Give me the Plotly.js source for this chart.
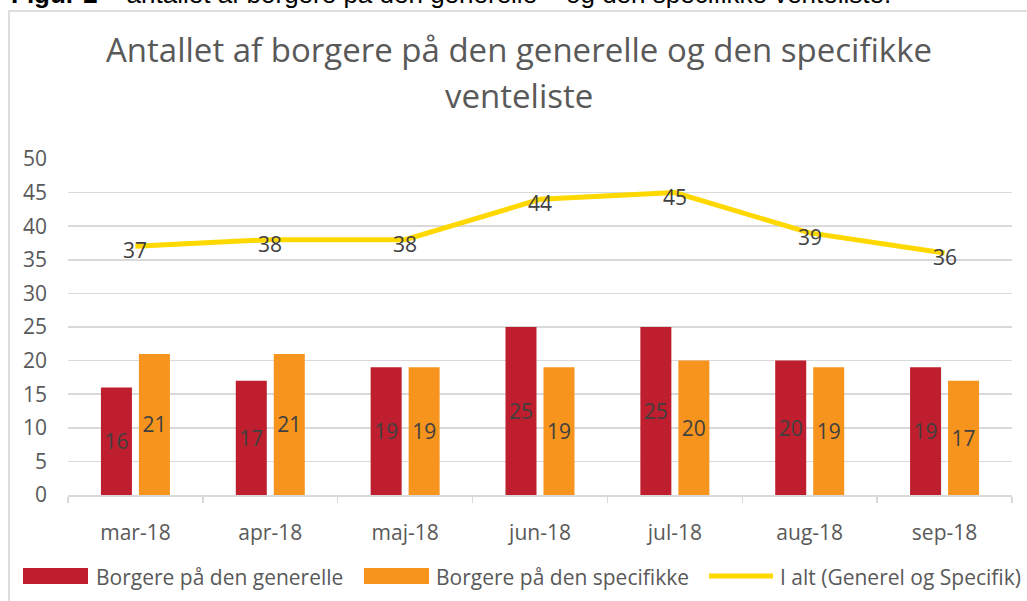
<!DOCTYPE html>
<html>
<head>
<meta charset="utf-8">
<script src="https://cdn.plot.ly/plotly-3.0.1.min.js"></script>
<style>html,body{margin:0;padding:0;background:#fff;}#chart{width:1027px;height:601px;}</style>
</head>
<body>
<div id="chart"></div>
<script>
// ---- data ----
var categories = ['mar-18', 'apr-18', 'maj-18', 'jun-18', 'jul-18', 'aug-18', 'sep-18'];
var generel = [16, 17, 19, 25, 25, 20, 19];
var specifik = [21, 21, 19, 19, 20, 19, 17];
var total = [37, 38, 38, 44, 45, 39, 36];
var yTicks = [0, 5, 10, 15, 20, 25, 30, 35, 40, 45, 50];
var seriesNames = ['Borgere på den generelle', 'Borgere på den specifikke', 'I alt (Generel og Specifik)'];
var chartTitle1 = 'Antallet af borgere på den generelle og den specifikke';
var chartTitle2 = 'venteliste';
var caption = '<b>Figur 2</b> – antallet af borgere på den generelle – og den specifikke venteliste.';

// ---- layout geometry (pixels) ----
var W = 1027, H = 601;
var L = 68, R = 1012, T = 159, B = 495;
function px(x) { return (x - L) / (R - L); }
function py(y) { return (B - y) / (B - T); }

var cRed = '#BE1E2D', cOrange = '#F7941D', cYellow = '#FFD800';
var font = 'Open Sans, sans-serif';
var txtGrey = '#595959', lblGrey = '#404040', gridGrey = '#d9d9d9';

var traces = [
  {
    type: 'bar', x: categories, y: generel, name: seriesNames[0],
    marker: {color: cRed}, text: generel.map(String), textposition: 'inside',
    insidetextanchor: 'middle', textangle: 0,
    insidetextfont: {family: font, size: 21, color: lblGrey},
    hoverinfo: 'skip', cliponaxis: false
  },
  {
    type: 'bar', x: categories, y: specifik, name: seriesNames[1],
    marker: {color: cOrange}, text: specifik.map(String), textposition: 'inside',
    insidetextanchor: 'middle', textangle: 0,
    insidetextfont: {family: font, size: 21, color: lblGrey},
    hoverinfo: 'skip', cliponaxis: false
  },
  {
    type: 'scatter', mode: 'lines', x: categories, y: total, name: seriesNames[2],
    line: {color: cYellow, width: 5}, hoverinfo: 'skip', cliponaxis: false
  }
];

var shapes = [
  // outer chart border
  {type: 'rect', xref: 'paper', yref: 'paper', x0: px(9), x1: px(1040), y0: py(11), y1: py(620),
   line: {color: '#d4d4d4', width: 1.5}, fillcolor: 'rgba(0,0,0,0)', layer: 'below'},
  // legend swatches
  {type: 'rect', xref: 'paper', yref: 'paper', x0: px(23), x1: px(88), y0: py(568), y1: py(584),
   line: {width: 0}, fillcolor: cRed},
  {type: 'rect', xref: 'paper', yref: 'paper', x0: px(364), x1: px(429), y0: py(568), y1: py(584),
   line: {width: 0}, fillcolor: cOrange},
  {type: 'line', xref: 'paper', yref: 'paper', x0: px(709), x1: px(773), y0: py(576), y1: py(576),
   line: {color: cYellow, width: 5}}
];

var annotations = [
  {text: caption, xref: 'paper', yref: 'paper', x: px(9), y: py(-6), xanchor: 'left', yanchor: 'middle',
   showarrow: false, font: {family: 'Liberation Sans, Arial, sans-serif', size: 26, color: '#000'}},
  {text: chartTitle1, xref: 'paper', yref: 'paper', x: px(519), y: py(49), xanchor: 'center', yanchor: 'middle',
   showarrow: false, font: {family: font, size: 33, color: txtGrey}},
  {text: chartTitle2, xref: 'paper', yref: 'paper', x: px(519), y: py(95), xanchor: 'center', yanchor: 'middle',
   showarrow: false, font: {family: font, size: 33, color: txtGrey}},
  {text: seriesNames[0], xref: 'paper', yref: 'paper', x: px(94), y: py(577), xanchor: 'left', yanchor: 'middle',
   showarrow: false, font: {family: font, size: 21, color: txtGrey}},
  {text: seriesNames[1], xref: 'paper', yref: 'paper', x: px(434), y: py(577), xanchor: 'left', yanchor: 'middle',
   showarrow: false, font: {family: font, size: 21, color: txtGrey}},
  {text: seriesNames[2], xref: 'paper', yref: 'paper', x: px(778), y: py(577), xanchor: 'left', yanchor: 'middle',
   showarrow: false, font: {family: font, size: 21, color: txtGrey}}
];

// data labels for the total line (placed through the axes, nudged slightly down like the original)
categories.forEach(function (c, i) {
  annotations.push({
    text: String(total[i]), x: c, y: total[i], xref: 'x', yref: 'y',
    showarrow: false, yshift: -4, xanchor: 'center', yanchor: 'middle',
    font: {family: font, size: 21, color: lblGrey}
  });
});

var layout = {
  width: W, height: H,
  margin: {l: L, r: W - R, t: T, b: H - B, pad: 0},
  paper_bgcolor: '#fff', plot_bgcolor: '#fff',
  showlegend: false,
  barmode: 'group', bargap: 0.4365, bargroupgap: 0.184,
  font: {family: font, color: txtGrey},
  xaxis: {
    type: 'category', categoryorder: 'array', categoryarray: categories,
    showline: true, linecolor: gridGrey, linewidth: 1.5,
    ticks: 'outside', tickson: 'boundaries', ticklen: 6, tickcolor: gridGrey, tickwidth: 1.5,
    showgrid: false, zeroline: false,
    tickfont: {family: font, size: 21, color: txtGrey}, ticklabelstandoff: 18
  },
  yaxis: {
    range: [0, 50], tickmode: 'array', tickvals: yTicks, ticktext: yTicks.map(String),
    showgrid: true, gridcolor: gridGrey, gridwidth: 1.5, zeroline: false, showline: false,
    ticks: '', tickfont: {family: font, size: 21, color: txtGrey}, ticklabelstandoff: 20,
    fixedrange: true
  },
  shapes: shapes,
  annotations: annotations
};

Plotly.newPlot('chart', traces, layout, {staticPlot: true, displayModeBar: false});
</script>
</body>
</html>
